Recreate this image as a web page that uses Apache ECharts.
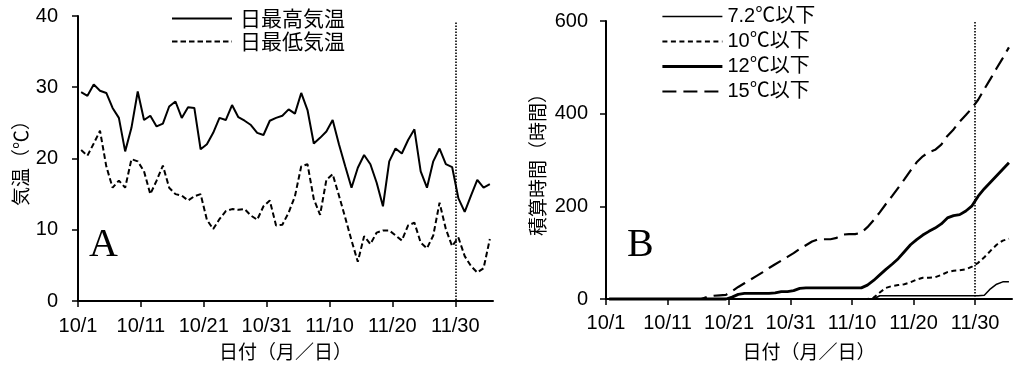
<!DOCTYPE html>
<html><head><meta charset="utf-8">
<script src="https://cdn.jsdelivr.net/npm/echarts@6/dist/echarts.min.js"></script>
<style>html,body{margin:0;padding:0;background:#fff}#c{width:1016px;height:366px}</style>
</head><body><div id="c"></div>
<script>
// ---- data ----
const dayCount = 66; // 10/1 .. 12/5
const tickDays = [0, 10, 20, 30, 40, 50, 60];
const tickLabels = ['10/1', '10/11', '10/21', '10/31', '11/10', '11/20', '11/30'];
const markDay = 60; // 11/30
const markRangeA = [39.1, 0];
const markRangeB = [598, 0];

const maxTempNames = ['日最高気温', '日最低気温'];
const maxT = [29.3,28.8,30.4,29.5,29.2,27.1,25.7,21.0,24.3,29.4,
  25.4,26.0,24.5,24.9,27.3,28.0,25.7,27.2,27.1,21.3,
  22.0,23.6,25.7,25.4,27.5,25.8,25.3,24.7,23.6,23.3,
  25.3,25.7,26.0,26.9,26.3,29.2,26.8,22.1,22.9,23.8,
  25.4,22.0,18.9,15.9,18.7,20.5,19.2,16.6,13.3,19.6,
  21.4,20.7,22.6,24.1,18.2,15.9,19.6,21.4,19.2,18.8,
  14.4,12.5,14.8,17.0,15.9,16.4];
const minT = [21.2,20.4,22.1,23.9,18.9,15.9,16.9,15.9,19.9,19.6,
  18.2,15.0,16.9,19.0,15.9,15.0,14.8,14.1,14.7,15.0,
  11.4,10.1,11.5,12.6,12.9,12.8,12.9,12.0,11.4,13.3,
  14.1,10.6,10.7,12.4,14.7,18.9,19.2,14.3,12.1,17.0,
  17.8,14.8,11.7,8.5,5.5,9.1,8.0,9.6,9.9,9.9,
  9.2,8.5,10.6,11.0,8.2,7.4,9.2,13.8,10.1,7.7,
  8.9,6.3,4.9,4.0,4.6,8.7];

const hourNames = ['7.2℃以下', '10℃以下', '12℃以下', '15℃以下'];
const h72 = [0,0,0,0,0,0,0,0,0,0, 0,0,0,0,0,0,0,0,0,0,
  0,0,0,0,0,0,0,0,0,0, 0,0,0,0,0,0,0,0,0,0,
  0,0,0,0,7,7,7,7,7,7, 7,7,7,7,7,7,7,7,7,7,
  7,8,22,32,37,37];
const h10 = [0,0,0,0,0,0,0,0,0,0, 0,0,0,0,0,0,0,0,0,0,
  0,0,0,0,0,0,0,0,0,0, 0,0,0,0,0,0,0,0,0,0,
  0,0,0,3,14,24,28,30,32,36, 42,46,46,47,52,58,61,62,64,70,
  78,90,104,117,126,130];
const h12 = [0,0,0,0,0,0,0,0,0,0, 0,0,0,0,0,0,0,0,0,0,
  4,10,12,12,12,12,12,13,16,16, 18,23,24,24,24,24,24,24,24,24,
  24,24,30,40,52,64,75,87,102,117, 128,138,146,153,162,175,180,182,190,201,
  222,238,252,266,280,294];
const h15 = [0,0,0,0,0,0,0,0,0,0, 0,0,0,0,0,0,5,7,8,9,
  17,26,34,42,50,58,67,75,83,91, 99,108,116,124,129,129,129,132,139,140,
  140,143,155,170,187,205,222,240,258,277, 295,308,317,322,333,352,366,383,397,412,
  430,453,475,498,520,543];

// ---- styles ----
const NUM = "'Liberation Sans', Arial, 'Noto Sans CJK JP', sans-serif";
const CJK = "'Noto Sans CJK JP', sans-serif";
const styleA = [{ width: 2, type: 'solid' }, { width: 2, type: [5.5, 3] }];
const styleB = [{ width: 1.5, type: 'solid' }, { width: 2, type: [5, 3.5] }, { width: 2.8, type: 'solid' }, { width: 2.2, type: [14, 7] }];

// ---- helpers ----
const pts = arr => arr.map((v, i) => [i + 0.5, v]); // each day's value at the middle of its day slot

function xAxisCfg(gi, margin, nameGap) {
  return {
    gridIndex: gi, type: 'value', min: 0, max: dayCount, interval: 10,
    name: '日付（月／日）', nameLocation: 'middle', nameGap: nameGap,
    nameTextStyle: { fontSize: 19, fontFamily: CJK, color: '#000' },
    axisLine: { show: true, onZero: false, lineStyle: { color: '#000', width: 2 } },
    axisTick: { show: true, customValues: tickDays, length: 6, lineStyle: { color: '#000', width: 1.5 } },
    axisLabel: { customValues: tickDays, margin: margin, fontSize: 20, fontFamily: NUM, color: '#000',
      formatter: v => { const k = tickDays.indexOf(v); return k >= 0 ? tickLabels[k] : ''; } },
    splitLine: { show: false }
  };
}
function yAxisCfg(gi, max, interval, name, nameGap, margin) {
  return {
    gridIndex: gi, type: 'value', min: 0, max: max, interval: interval,
    name: name, nameLocation: 'middle', nameGap: nameGap, nameRotate: 90,
    nameTextStyle: { fontSize: 19, fontFamily: CJK, color: '#000' },
    axisLine: { show: true, lineStyle: { color: '#000', width: 2 } },
    axisTick: { show: true, length: 6, lineStyle: { color: '#000', width: 1.5 } },
    axisLabel: { margin: margin, fontSize: 20, fontFamily: NUM, color: '#000' },
    splitLine: { show: false }
  };
}
function lineSeries(name, gi, arr, st) {
  return {
    name: name, type: 'line', xAxisIndex: gi, yAxisIndex: gi, data: pts(arr),
    symbol: 'none', showSymbol: false, clip: false, silent: true,
    itemStyle: { color: '#000' },
    lineStyle: { color: '#000', width: st.width, type: st.type },
    emphasis: { disabled: true }
  };
}
function markCfg(range) {
  return {
    symbol: ['none', 'none'], silent: true, label: { show: false },
    lineStyle: { color: '#000', width: 1.6, type: [1.6, 1.4] },
    data: [[{ coord: [markDay, range[0]] }, { coord: [markDay, range[1]] }]]
  };
}
const legendItem = { color: 'rgba(0,0,0,0)', borderWidth: 0, opacity: 0 };
const legendData = (names, styles) => names.map((n, k) => ({
  name: n, itemStyle: legendItem,
  lineStyle: { color: '#000', width: styles[k].width, type: styles[k].type }
}));

const sMax = lineSeries(maxTempNames[0], 0, maxT, styleA[0]);
sMax.markLine = markCfg(markRangeA);
const sH15 = lineSeries(hourNames[3], 1, h15, styleB[3]);
sH15.markLine = markCfg(markRangeB);

const option = {
  animation: false,
  backgroundColor: '#fff',
  color: ['#000'],
  grid: [
    { left: 78, right: 523, top: 16, bottom: 64, containLabel: false },
    { left: 606, right: 4, top: 21, bottom: 66, containLabel: false }
  ],
  xAxis: [xAxisCfg(0, 15, 41), xAxisCfg(1, 14, 43)],
  yAxis: [
    yAxisCfg(0, 40, 10, '気温（℃）', 48, 20),
    yAxisCfg(1, 600, 200, '積算時間（時間）', 59, 18)
  ],
  legend: [
    { data: legendData(maxTempNames, styleA), orient: 'vertical', left: 171, top: 7, padding: 0,
      itemWidth: 60, itemHeight: 12, itemGap: 0, itemStyle: legendItem, selectedMode: false,
      textStyle: { fontSize: 21, lineHeight: 23, fontFamily: CJK, color: '#000', padding: [0, 0, 0, 3] } },
    { data: legendData(hourNames, styleB), orient: 'vertical', left: 661, top: 4, padding: 0,
      itemWidth: 60, itemHeight: 12, itemGap: 0, itemStyle: legendItem, selectedMode: false,
      textStyle: { fontSize: 20, lineHeight: 25, fontFamily: NUM, color: '#000' } }
  ],
  graphic: [
    { type: 'text', left: 89, top: 225, silent: true, style: { text: 'A', font: '40px "Liberation Serif", serif', fill: '#000' } },
    { type: 'text', left: 627, top: 225, silent: true, style: { text: 'B', font: '40px "Liberation Serif", serif', fill: '#000' } }
  ],
  series: [
    sMax,
    lineSeries(maxTempNames[1], 0, minT, styleA[1]),
    lineSeries(hourNames[0], 1, h72, styleB[0]),
    lineSeries(hourNames[1], 1, h10, styleB[1]),
    lineSeries(hourNames[2], 1, h12, styleB[2]),
    sH15
  ]
};
const chart = echarts.init(document.getElementById('c'), null, { renderer: 'canvas' });
chart.setOption(option);
</script>
</body></html>
